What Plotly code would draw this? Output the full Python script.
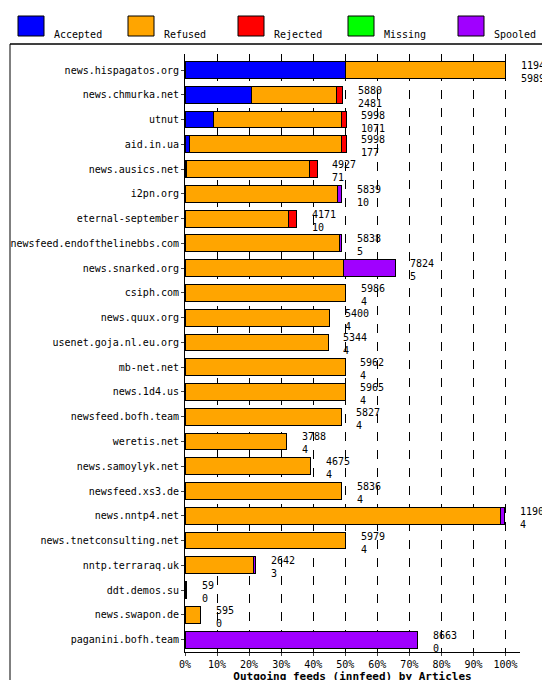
import plotly.graph_objects as go

hosts = ["news.hispagatos.org","news.chmurka.net","utnut","aid.in.ua","news.ausics.net","i2pn.org",
 "eternal-september","newsfeed.endofthelinebbs.com","news.snarked.org","csiph.com","news.quux.org",
 "usenet.goja.nl.eu.org","mb-net.net","news.1d4.us","newsfeed.bofh.team","weretis.net",
 "news.samoylyk.net","newsfeed.xs3.de","news.nntp4.net","news.tnetconsulting.net","nntp.terraraq.uk",
 "ddt.demos.su","news.swapon.de","paganini.bofh.team"]
offered  = [11942,5880,5998,5998,4927,5839,4171,5838,7824,5986,5400,5344,5962,5965,5827,3788,4675,5836,11902,5979,2642,59,595,8663]
accepted = [5989,2481,1071,177,71,10,10,5,5,4,4,4,4,4,4,4,4,4,4,4,3,0,0,0]
rejected = [0,250,150,150,300,0,300,0,0,0,0,0,0,0,0,0,0,0,0,0,0,0,0,0]
missing  = [0]*24
spooled  = [0,0,0,0,0,150,0,100,1930,0,0,0,0,0,0,0,0,0,150,0,100,0,0,8663]
refused  = [o-a-r-m-s for o,a,r,m,s in zip(offered,accepted,rejected,missing,spooled)]

series = [("Accepted",accepted,"#0000ff"),("Refused",refused,"#ffa500"),("Rejected",rejected,"#ff0000"),
          ("Missing",missing,"#00ff00"),("Spooled",spooled,"#a000ff")]
maxv = max(offered)
font = "DejaVu Sans Mono"

L, R, T, B, W, H = 177, 38, 46, 36, 550, 680
PW, PH = W - L - R, H - T - B
px = lambda X: (X - L) / PW
py = lambda Y: (H - B - Y) / PH

fig = go.Figure()
for name, vals, col in series:
    fig.add_trace(go.Bar(y=hosts, x=vals, name=name, orientation="h", marker_color=col,
                         marker_line_color="black", marker_line_width=1, width=0.68, showlegend=False))
for h, o, a in zip(hosts, offered, accepted):
    fig.add_annotation(x=o, y=h, text=f"{o}<br>{a}", showarrow=False, xanchor="left",
                       xshift=13, yshift=-2, font=dict(family=font, size=10, color="black"), align="left")

shapes = [dict(type="rect", xref="paper", yref="paper", x0=px(2), x1=px(548), y0=py(678), y1=py(36),
               line=dict(color="black", width=1)),
          dict(type="line", xref="paper", yref="paper", x0=px(2), x1=px(548), y0=py(36), y1=py(36),
               line=dict(color="black", width=1))]
for i, (name, vals, col) in enumerate(series):
    x0 = 10 + i * 110
    shapes.append(dict(type="rect", xref="paper", yref="paper", x0=px(x0), x1=px(x0 + 26),
                       y0=py(28), y1=py(8), fillcolor=col, line=dict(color="black", width=1)))
    fig.add_annotation(xref="paper", yref="paper", x=px(x0 + 34), y=py(19), text=name, showarrow=False,
                       xanchor="left", font=dict(family=font, size=10, color="black"))

fig.update_layout(
    width=W, height=H, barmode="stack", plot_bgcolor="white", paper_bgcolor="white",
    margin=dict(l=L, r=R, t=T, b=B, autoexpand=False), showlegend=False,
    font=dict(family=font, size=10, color="black"),
    xaxis=dict(range=[0, maxv*1.045], tickvals=[maxv*k/10 for k in range(11)],
               ticktext=[f"{k*10}%" for k in range(11)], showgrid=True, gridcolor="black",
               griddash="dash", gridwidth=1, showline=True, linecolor="black",
               ticks="outside", ticklen=3, zeroline=False, automargin=False,
               title=dict(text="<b>Outgoing feeds (innfeed) by Articles</b>", standoff=2, font=dict(size=11))),
    yaxis=dict(autorange="reversed", showline=True, linecolor="black", ticks="outside", ticklen=3,
               tickfont=dict(size=10), automargin=False),
    shapes=shapes,
)
fig.write_html("out.html")
